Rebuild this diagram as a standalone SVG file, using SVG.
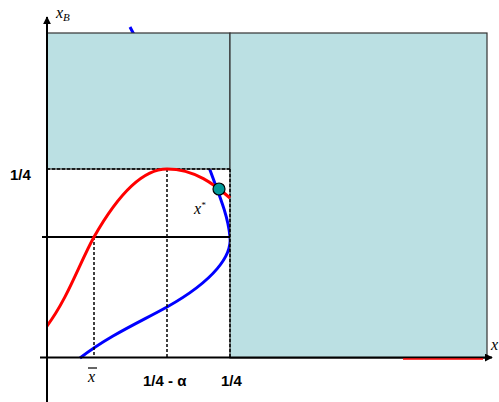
<svg xmlns="http://www.w3.org/2000/svg" width="499" height="402" viewBox="0 0 499 402">
<defs>
<style>
.region{fill:#BBE0E3;stroke:#333;stroke-width:1.2}
.axis{stroke:#000;stroke-width:2;fill:none}
.dash{stroke:#000;stroke-width:1.5;stroke-dasharray:3 2;fill:none}
.lbl{font-family:"Liberation Sans",Arial,sans-serif;font-weight:bold;font-size:15px;fill:#000}
.ital{font-family:"Liberation Serif","Times New Roman",serif;font-style:italic;fill:#000}
</style>
<marker id="arr" viewBox="0 0 10 10" refX="9" refY="5" markerWidth="4" markerHeight="4" orient="auto" markerUnits="strokeWidth">
<path d="M0,0 L10,5 L0,10 z" fill="#000"/>
</marker>
</defs>
<rect width="499" height="402" fill="#fff"/>
<g id="connectors">
<path id="blue-curve" d="M80,358 C110,335 140,322 167,307 C215,280 232,255 230,237 C228,215 218,192 210,170 C195,132 150,66 130,27" stroke="#0000FF" stroke-width="3" fill="none"/>
</g>
<g id="region-left"><rect class="region" x="47" y="33" width="183" height="136"/></g>
<g id="region-right"><rect class="region" x="230" y="33" width="257" height="325"/></g>
<g id="guides">
<line class="dash" x1="47" y1="169" x2="230" y2="169"/>
<line class="dash" x1="94" y1="237" x2="94" y2="358"/>
<line class="dash" x1="167" y1="169" x2="167" y2="358"/>
<line class="dash" x1="230" y1="169" x2="230" y2="358"/>
<line x1="42" y1="237" x2="230" y2="237" stroke="#000" stroke-width="2"/>
</g>
<g id="red-curve">
<path d="M47,326 C68,298 80,262 94,237 C115,200 140,169 167,169 C195,169 215,185 230,198" stroke="#FF0000" stroke-width="3" fill="none"/>
</g>
<g id="axes">
<line class="axis" x1="47" y1="402" x2="47" y2="17" marker-end="url(#arr)"/>
<line class="axis" x1="40" y1="357.5" x2="492" y2="357.5" marker-end="url(#arr)"/>
</g>
<line x1="403" y1="359" x2="483" y2="359" stroke="#FF0000" stroke-width="1.5"/>
<g id="equilibrium"><circle cx="219" cy="189" r="6" fill="#009999" stroke="#000" stroke-width="1.2"/></g>
<g id="labels">
<text class="ital" x="56" y="18" font-size="16">x<tspan font-size="11" dy="3">B</tspan></text>
<text class="lbl" x="10" y="180">1/4</text>
<text class="ital" x="194" y="214" font-size="16">x<tspan font-size="9" dy="-6">*</tspan></text>
<line x1="88" y1="368" x2="97" y2="368" stroke="#000" stroke-width="1.2"/>
<text class="ital" x="88" y="382" font-size="16">x</text>
<text class="lbl" x="143" y="386">1/4 - α</text>
<text class="lbl" x="221" y="386">1/4</text>
<text class="ital" x="491" y="350" font-size="16">x</text>
</g>
</svg>
